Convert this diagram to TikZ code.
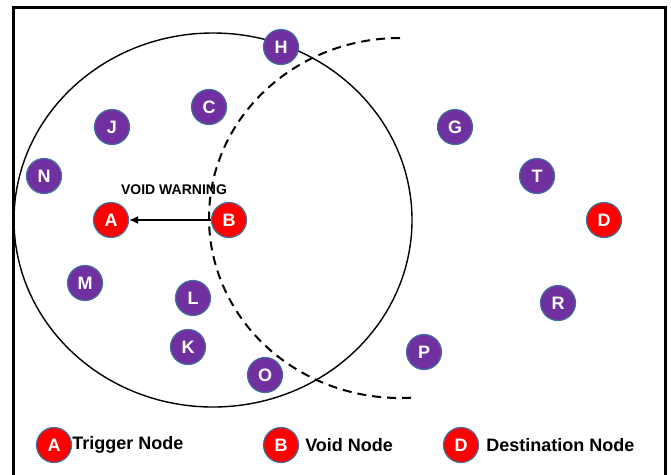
\documentclass[tikz,border=0pt]{standalone}
\usepackage{fontspec}
\setmainfont{Liberation Sans}
\usetikzlibrary{positioning,arrows.meta}
\definecolor{nodepurple}{HTML}{7030A0}
\definecolor{nodered}{HTML}{FF0000}
\definecolor{nodeedge}{HTML}{41719C}

\begin{document}
\begin{tikzpicture}[x=1pt, y=-1pt,
    sensor/.style={circle, draw=nodeedge, line width=1.2pt, fill=nodepurple,
        minimum size=35pt, inner sep=0pt, text=white,
        font=\fontsize{18}{18}\selectfont\bfseries},
    special/.style={sensor, fill=nodered},
    legtext/.style={inner sep=0pt, font=\fontsize{18}{18}\selectfont\bfseries}]
    \useasboundingbox (0,0) rectangle (671,474);
    \draw [line width=3pt] (13,477) -- (13,7.5) -- (665,7.5) -- (665,477);

    % range of the void node and of the trigger node
    \draw [line width=1.4pt] (213,220) ellipse [x radius=199pt, y radius=187pt];
    \draw [dashed, dash pattern=on 9pt off 6pt, line width=2pt]
        (400,38) arc [start angle=90, end angle=274, x radius=191pt, y radius=180pt];

    \node [sensor] (H) at (281,47) {H};
    \node [sensor] (C) at (209,107) {C};
    \node [sensor] (J) at (112,127) {J};
    \node [sensor] (G) at (455,127) {G};
    \node [sensor] (N) at (44,176) {N};
    \node [sensor] (T) at (537,176) {T};
    \node [special] (A) at (111,220) {A};
    \node [special] (B) at (229,220) {B};
    \node [special] (D) at (604,220) {D};
    \node [sensor] (M) at (85,283) {M};
    \node [sensor] (L) at (193,298) {L};
    \node [sensor] (R) at (558,303) {R};
    \node [sensor] (K) at (188,347) {K};
    \node [sensor] (P) at (424,352) {P};
    \node [sensor] (O) at (265,375) {O};

    \draw [-{Latex[length=9pt,width=8pt]}, line width=1.4pt] (B) -- (A);
    \node [font=\fontsize{14}{14}\selectfont\bfseries] (warn) at (174,190) {VOID WARNING};

    % legend
    \node [special] (keyA) at (54,445) {A};
    \node [legtext, right=0pt of keyA] (keyAtext) {Trigger Node};
    \node [special] (keyB) at (281,445) {B};
    \node [legtext, right=6pt of keyB] (keyBtext) {Void Node};
    \node [special] (keyD) at (461,445) {D};
    \node [legtext, right=7pt of keyD] (keyDtext) {Destination Node};
\end{tikzpicture}
\end{document}
